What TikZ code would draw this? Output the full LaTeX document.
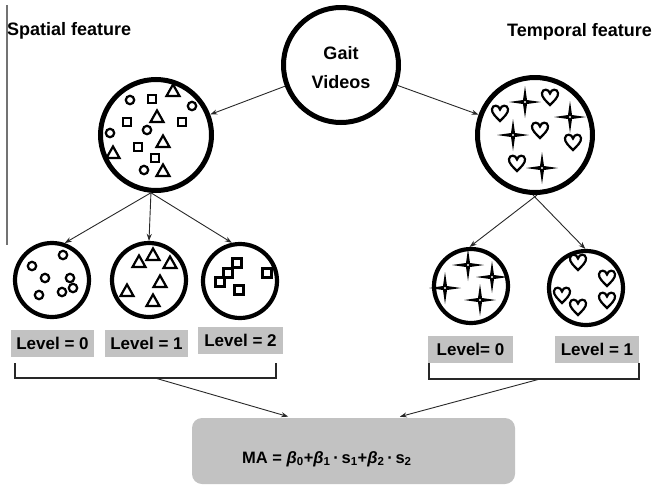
\documentclass[tikz,border=0pt]{standalone}
\usepackage{fontspec}
\setmainfont{Liberation Sans}
\usetikzlibrary{arrows.meta,calc}
\definecolor{boxgray}{RGB}{194,194,194}
\definecolor{arrgray}{RGB}{40,40,40}
\begin{document}
\begin{tikzpicture}[x=1pt,y=-1pt,
  bigc/.style={circle,draw,line width=5pt,minimum size=112pt,inner sep=0pt},
  smallc/.style={circle,draw,line width=4.2pt,minimum size=74pt,inner sep=0pt},
  arr/.style={draw=arrgray,line width=0.9pt,-{Stealth[length=7pt,width=5pt]}},
  lvl/.style={fill=boxgray,minimum width=83pt,minimum height=27pt,inner sep=0pt,font=\fontsize{17}{18}\selectfont\bfseries},
  ttl/.style={font=\fontsize{18}{20}\selectfont\bfseries,inner sep=0pt},
  sym/.style={line width=2.2pt},
  brk/.style={draw=arrgray,line width=1.1pt},
  circ/.pic={\draw[sym] (0,0) circle (4.2);},
  sqr/.pic={\draw[sym] (-4.2,-4.2) rectangle (4.2,4.2);},
  sqrthick/.pic={\draw[line width=3pt] (-4.6,-4.6) rectangle (4.6,4.6);},
  tri/.pic={\draw[sym,line join=miter] (-6.5,5) -- (6.5,5) -- (0,-6.5) -- cycle;},
  hrt/.pic={\draw[line width=2.2pt] (0,8) .. controls (-4.5,3.5) and (-8.5,0) .. (-8,-4) .. controls (-7.5,-8.5) and (-1.2,-8.5) .. (0,-3.5) .. controls (1.2,-8.5) and (7.5,-8.5) .. (8,-4) .. controls (8.5,0) and (4.5,3.5) .. (0,8) -- cycle;},
  starf/.pic={\fill (0,-16) -- (2,-2) -- (16,0) -- (2,2) -- (0,16) -- (-2,2) -- (-16,0) -- (-2,-2) -- cycle; \fill[white] (0,0) circle (1.2);}
]
\useasboundingbox (0,0) rectangle (654,485);

% left rule
\draw[line width=1.3pt,draw=black!55] (7,5) -- (7,245);

% titles
\node[ttl,anchor=west] (sptitle) at (7,31) {Spatial feature};
\node[ttl,anchor=east] (tptitle) at (652,32) {Temporal feature};

% gait videos
\node[bigc,minimum size=115pt] (gait) at (341,65) {};
\node[font=\fontsize{18}{29}\selectfont\bfseries,align=center,inner sep=0pt] (gaittxt) at (341,67.5) {Gait\\Videos};

% big circles
\node[bigc,minimum size=111pt] (sp) at (156,135) {};
\node[bigc,minimum size=115pt] (tp) at (535,135) {};

% small circles
\node[smallc] (l0) at (52,280) {};
\node[smallc] (l1) at (149,280) {};
\node[smallc] (l2) at (240,281) {};
\node[smallc] (t0) at (471,286) {};
\node[smallc] (t1) at (586,288) {};

% symbols spatial big
\foreach \p in {(130,100),(192,106),(110,133),(147,130),(144,170)} \pic at \p {circ};
\foreach \p in {(152,99),(127,122),(182,122),(138,147),(155,158)} \pic at \p {sqr};
\foreach \p in {(173,91),(157,117),(163,142),(113,153),(163,171)} \pic at \p {tri};
% level symbols spatial
\foreach \p in {(32,266),(63,255),(45,278),(70,278),(62,292),(73,288),(39,295)} \pic at \p {circ};
\foreach \p in {(139,262),(153,255),(170,263),(160,282),(127,291),(153,301)} \pic at \p {tri};
\foreach \p in {(237,263),(228,273),(220,282),(239,290),(267,273)} \pic at \p {sqrthick};
% temporal symbols
\foreach \p in {(525,102),(570,117),(513,135),(542,168)} \pic at \p {starf};
\foreach \p in {(550,97),(500,113),(540,130),(573,142),(517,163)} \pic at \p {hrt};
\foreach \p in {(468,265),(492,277),(445,288),(480,300)} \pic at \p {starf};
\foreach \p in {(578,262),(607,278),(562,295),(578,307),(607,300)} \pic at \p {hrt};

% arrows
\draw[arr] (gait) -- (sp);
\draw[arr] (gait) -- (tp);
\draw[arr] (sp.265) -- (l0.71);
\draw[arr] (sp.265) -- (l1.north);
\draw[arr] (sp.265) -- (l2.102);
\draw[arr] (tp.272) -- (t0.92);
\draw[arr] (tp.268) -- (t1.91);

% level boxes
\node[lvl] (lv0) at (52.5,343.5) {Level = 0};
\node[lvl] (lv1) at (146.5,343.5) {Level = 1};
\node[lvl,minimum width=85pt] (lv2) at (240.5,340.5) {Level = 2};
\node[lvl,minimum width=85pt] (tv0) at (470.5,349.5) {Level= 0};
\node[lvl,minimum width=84pt] (tv1) at (597,349.5) {Level = 1};

% brackets
\draw[brk] (15,363) -- (15,378) -- (276,378) -- (276,363);
\draw[brk] (429,363) -- (429,379) -- (639,379) -- (639,363);
\coordinate (bl) at (155,378);
\coordinate (br) at (540,379);

% formula box
\node[fill=boxgray,rounded corners=10pt,minimum width=323pt,minimum height=66pt,inner sep=0pt] (mabox) at (353.5,451) {};
\node[font=\fontsize{16.5}{18}\selectfont\bfseries,anchor=west,inner sep=0pt] (matext) at (242,459) {MA = \textit{β}\textsubscript{0}+\textit{β}\textsubscript{1}\,·\,s\textsubscript{1}+\textit{β}\textsubscript{2}\,·\,s\textsubscript{2}};
\coordinate (mal) at (293,418);
\coordinate (mar) at (395,418);
\draw[arr,shorten >=5pt] (bl) -- (mal);
\draw[arr,shorten >=5pt] (br) -- (mar);
\end{tikzpicture}
\end{document}
